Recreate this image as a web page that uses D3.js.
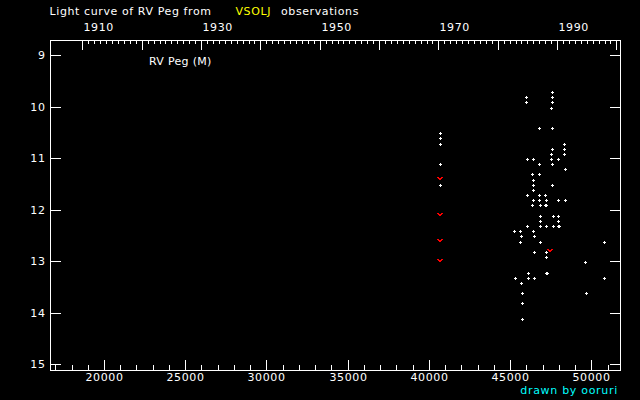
<!DOCTYPE html>
<html><head><meta charset="utf-8">
<script src="https://cdn.jsdelivr.net/npm/d3@7"></script>
<style>
html,body{margin:0;padding:0;background:#000;}
svg{display:block;}
text{font-family:"DejaVu Sans",sans-serif;}
</style></head><body>
<svg id="c" width="640" height="400"></svg>
<script>
// observations (JD - 2400000, visual magnitude)
const obsJD = [47580,45980,47580,45980,47580,47520,46780,47580,40690,40690,
               40690,48320,47580,48320,47520,48320,46040,46410,47520,47950,
               40690,46780,47580,48380,46350,46780,46410,40690,46410,47580,
               46410,46040,46780,47150,46410,46780,47210,47950,48380,46350,
               46840,47150,47210,46840,47640,47950,46840,47950,46040,46840,
               47210,47640,47950,48010,45240,45610,46410,45670,46470,45610,
               46840,50780,46470,47210,47210,49610,46100,47210,47270,45300,
               46100,46470,50780,45670,45730,49670,45730,45730];
const obsMag = [9.7,9.8,9.8,9.9,9.9,10.0,10.4,10.4,10.5,10.6,
                10.7,10.7,10.8,10.8,10.9,10.9,11.0,11.0,11.0,11.0,
                11.1,11.1,11.1,11.2,11.3,11.3,11.4,11.5,11.5,11.5,
                11.6,11.7,11.7,11.7,11.8,11.8,11.8,11.8,11.8,11.9,
                11.9,11.9,11.9,12.1,12.1,12.1,12.2,12.2,12.3,12.3,
                12.3,12.3,12.3,12.3,12.4,12.4,12.4,12.5,12.5,12.61,
                12.61,12.61,12.8,12.8,12.9,13.0,13.21,13.21,13.21,13.31,
                13.31,13.31,13.31,13.4,13.6,13.6,13.8,14.1];
// "fainter than" observations (red)
const limJD  = [40690, 40690, 40690, 40690, 47450];
const limMag = [11.4, 12.1, 12.61, 13.0, 12.8];

const jdMajor = [20000,25000,30000,35000,40000,45000,50000];
const jdMinor = d3.range(17000, 51001, 1000).filter(d => d % 5000 !== 0);
const magTicks = [9,10,11,12,13,14,15];
const years = d3.range(1910, 2001);
const yearLabels = [1910,1930,1950,1970,1990];

function jdOfYear(Y){ return 15020.5 + 365*(Y-1900) + Math.floor((Y-1901)/4); }

const svg = d3.select("#c");
svg.append("rect").attr("width",640).attr("height",400).attr("fill","#000");

const x = d3.scaleLinear().domain([20000, 50000]).rangeRound([104, 591.3]);
const y = d3.scaleLinear().domain([9, 15]).rangeRound([55, 364]);

const FONT = "DejaVu Sans";
function styleAxis(g){
  g.attr("color","#fff").attr("font-family",FONT).attr("font-size",11);
  g.select(".domain").remove();
  g.selectAll("text").attr("letter-spacing","0.6px");
}

// bottom axis
svg.append("g").attr("transform","translate(0,370)")
  .call(d3.axisBottom(x).tickValues(jdMinor).tickSize(-5).tickFormat(""))
  .call(styleAxis);
svg.append("g").attr("transform","translate(0,370)")
  .call(d3.axisBottom(x).tickValues(jdMajor).tickSize(-10).tickPadding(3.5).tickFormat(d3.format("d")))
  .call(styleAxis);

// top axis (years)
const yMinor = years.filter(Y => Y % 10 !== 0).map(jdOfYear);
const yMajor = years.filter(Y => Y % 10 === 0).map(jdOfYear);
svg.append("g").attr("transform","translate(0,40)")
  .call(d3.axisTop(x).tickValues(yMinor).tickSize(-4).tickFormat(""))
  .call(styleAxis);
svg.append("g").attr("transform","translate(0,40)")
  .call(d3.axisTop(x).tickValues(yMajor).tickSize(-10).tickPadding(9)
        .tickFormat(d => { const Y = years.find(v => jdOfYear(v) === d); return yearLabels.includes(Y) ? String(Y) : ""; }))
  .call(styleAxis)
  .call(g => g.selectAll("text").attr("text-anchor","start").attr("x",1));

// left & right axes
svg.append("g").attr("transform","translate(50,0)")
  .call(d3.axisLeft(y).tickValues(magTicks).tickSize(-11).tickPadding(4.5).tickFormat(d3.format("d")))
  .call(styleAxis);
svg.append("g").attr("transform","translate(620,0)")
  .call(d3.axisRight(y).tickValues(magTicks).tickSize(-10).tickFormat(""))
  .call(styleAxis);

// frame
svg.append("rect").attr("x",50.5).attr("y",40.5).attr("width",570).attr("height",330)
  .attr("fill","none").attr("stroke","#fff").attr("stroke-width",1);

// observations
svg.append("g").selectAll("path").data(d3.range(obsJD.length)).join("path")
  .attr("transform", i => `translate(${x(obsJD[i])},${y(obsMag[i])})`)
  .attr("d","M-1,1h3v1h-3zM0,0h1v3h-1z")
  .attr("fill","#fff");

svg.append("g").selectAll("path").data(d3.range(limJD.length)).join("path")
  .attr("transform", i => `translate(${x(limJD[i])},${y(limMag[i])})`)
  .attr("d","M-3,-2h2v1h-2zM1,-2h2v1h-2zM-2,-1h4v1h-4zM-1,0h2v1h-2z")
  .attr("fill","#ff0000");

// texts
const t = svg.append("g").attr("font-family",FONT).attr("font-size",11).attr("letter-spacing","0.6px");
t.append("text").attr("x",49.5).attr("y",15).attr("fill","#fff").text("Light curve of RV Peg from");
t.append("text").attr("x",235.5).attr("y",15).attr("fill","#ffff00").text("VSOLJ");
t.append("text").attr("x",281).attr("y",15).attr("fill","#fff").text("observations");
t.append("text").attr("x",149).attr("y",65).attr("fill","#fff").attr("letter-spacing","0.3px").text("RV Peg (M)");
svg.append("text").attr("x",618).attr("y",394).attr("text-anchor","end")
  .attr("font-family",FONT).attr("font-size",11).attr("letter-spacing","0.7px")
  .attr("fill","#00ffff").text("drawn by ooruri");
</script>
</body></html>
